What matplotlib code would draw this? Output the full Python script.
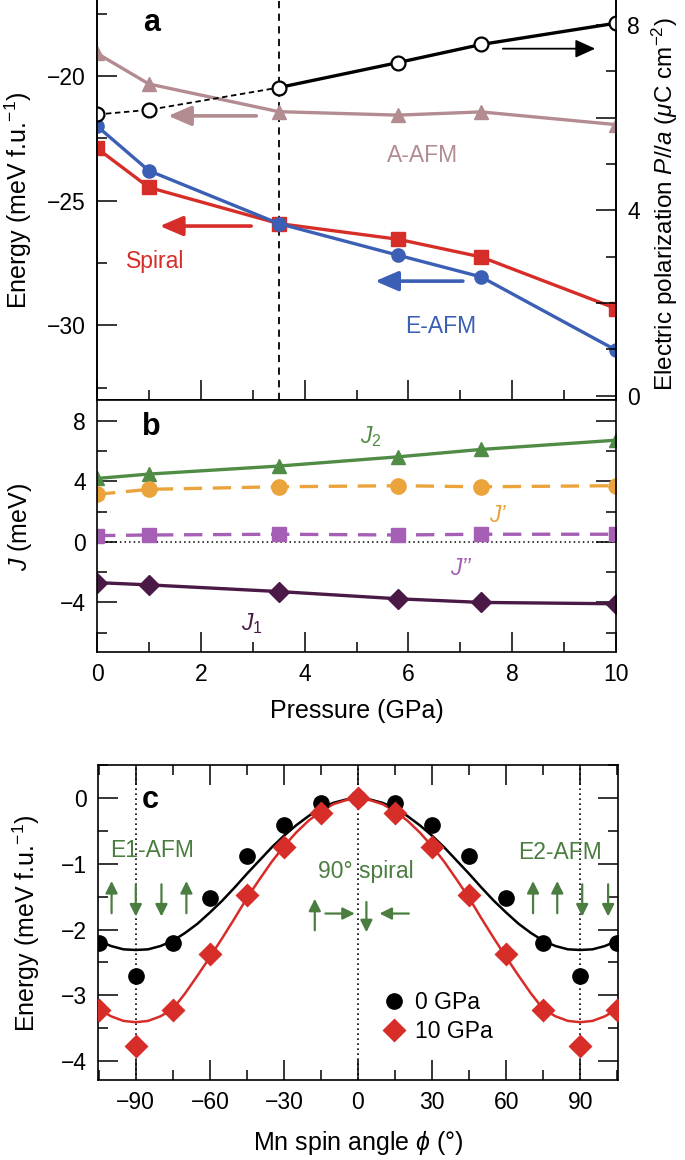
#!/usr/bin/env python3

import numpy as np
import matplotlib
matplotlib.use('Agg')
from matplotlib import pyplot as plt
from matplotlib.ticker import MultipleLocator, NullFormatter

plt.rcParams['font.family'] = ['Liberation Sans', 'DejaVu Sans']
plt.rcParams['mathtext.fontset'] = 'custom'
plt.rcParams['mathtext.rm'] = 'Liberation Sans'
plt.rcParams['mathtext.it'] = 'Liberation Sans:italic'
plt.rcParams['mathtext.bf'] = 'Liberation Sans:bold'

# ---- panel a: energies (left axis) and polarization (right axis) ----
pressure = [0, 1, 3.5, 5.8, 7.4, 10]
e_aafm = [-19.09, -20.32, -21.43, -21.57, -21.44, -21.95]
e_spiral = [-22.90, -24.47, -25.92, -26.55, -27.26, -29.33]
e_eafm = [-22.01, -23.80, -25.92, -27.19, -28.06, -31.00]
polarization = [6.07, 6.17, 6.65, 7.19, 7.58, 8.04]

# ---- panel b: exchange couplings ----
j2 = [4.20, 4.49, 5.02, 5.63, 6.12, 6.73]
j_prime = [3.15, 3.48, 3.65, 3.72, 3.65, 3.72]
j_dprime = [0.42, 0.46, 0.51, 0.46, 0.51, 0.51]
j1 = [-2.69, -2.84, -3.28, -3.76, -4.00, -4.09]

# ---- panel c: energy vs spin angle ----
spin_angle = [-105, -90, -75, -60, -45, -30, -15, 0, 15, 30, 45, 60, 75, 90, 105]
e_0gpa = [-2.20, -2.70, -2.20, -1.52, -0.88, -0.40, -0.07, 0.0,
          -0.07, -0.40, -0.88, -1.52, -2.20, -2.70, -2.20]
e_10gpa = [-3.22, -3.77, -3.22, -2.37, -1.48, -0.74, -0.23, 0.0,
           -0.23, -0.74, -1.48, -2.37, -3.22, -3.77, -3.22]
fit_angle = [-105, -100, -95, -90, -85, -80, -75, -70, -65, -60, -55, -50, -45, -40,
             -35, -30, -25, -20, -15, -10, -5, 0, 5, 10, 15, 20, 25, 30, 35, 40,
             45, 50, 55, 60, 65, 70, 75, 80, 85, 90, 95, 100, 105]
fit_0gpa = [-2.17, -2.25, -2.30, -2.31, -2.30, -2.25, -2.17, -2.05, -1.91, -1.74, -1.56,
            -1.36, -1.15, -0.95, -0.75, -0.57, -0.41, -0.27, -0.15, -0.07, -0.02, 0.0,
            -0.02, -0.07, -0.15, -0.27, -0.41, -0.57, -0.75, -0.95, -1.15, -1.36, -1.56,
            -1.74, -1.91, -2.05, -2.17, -2.25, -2.30, -2.31, -2.30, -2.25, -2.17]
fit_10gpa = [-3.21, -3.32, -3.39, -3.41, -3.39, -3.32, -3.21, -2.97, -2.70, -2.42, -2.13,
             -1.83, -1.52, -1.24, -0.97, -0.73, -0.52, -0.34, -0.20, -0.09, -0.03, 0.0,
             -0.03, -0.09, -0.20, -0.34, -0.52, -0.73, -0.97, -1.24, -1.52, -1.83, -2.13,
             -2.42, -2.70, -2.97, -3.21, -3.32, -3.39, -3.41, -3.39, -3.32, -3.21]

c_aafm = '#b38c91'
c_red = '#d72d28'
c_blue = '#3a5fb4'
c_j2 = '#508c46'
c_jp = '#eba43c'
c_jpp = '#a55fb4'
c_j1 = '#4b1946'
c_green = '#4b7d41'

FS = 16.5
LW = 2.4


def style_ticks(ax, **kw):
    ax.tick_params(which='both', direction='in', width=1.1, labelsize=FS, pad=8, **kw)
    ax.tick_params(which='major', length=14.4)
    ax.tick_params(which='minor', length=7.2)
    for s in ax.spines.values():
        s.set_linewidth(1.2)


def arrow(ax, tail, tip, color, lw, scale, hl=0.6, hw=0.3):
    ax.annotate('', xy=tip, xytext=tail,
                arrowprops=dict(arrowstyle='-|>,head_length=%g,head_width=%g' % (hl, hw),
                                lw=lw, color=color, mutation_scale=scale,
                                shrinkA=0, shrinkB=0))


fig = plt.figure(figsize=(6.85, 11.6), dpi=100)

# ================= panel a =================
ax_a = fig.add_axes([97 / 685, 1 - 400 / 1160, 519 / 685, 400 / 1160])
ax_p = ax_a.twinx()

ax_a.axvline(3.5, color='black', lw=1.3, ls=(0, (4, 3)), zorder=1)
ax_a.plot(pressure, e_aafm, color=c_aafm, lw=LW, marker='^', ms=10, zorder=3)
ax_a.plot(pressure, e_spiral, color=c_red, lw=LW, marker='s', ms=9.5, zorder=3)
ax_a.plot(pressure, e_eafm, color=c_blue, lw=LW, marker='o', ms=9.5, zorder=4)

ax_p.plot(pressure[:3], polarization[:3], color='black', lw=1.3, ls=(0, (3, 2)))
ax_p.plot(pressure[2:], polarization[2:], color='black', lw=2.4)
ax_p.plot(pressure, polarization, ls='none', marker='o', ms=10, mfc='white',
          mec='black', mew=1.6)

ax_a.set_xlim(0, 10)
ax_a.set_ylim(-33, -16.95)
ax_p.set_ylim(-0.09, 8.54)

ax_a.xaxis.set_major_locator(MultipleLocator(2))
ax_a.xaxis.set_minor_locator(MultipleLocator(1))
ax_a.yaxis.set_major_locator(MultipleLocator(5))
ax_a.yaxis.set_minor_locator(MultipleLocator(2.5))
ax_p.yaxis.set_major_locator(MultipleLocator(2))
ax_p.yaxis.set_minor_locator(MultipleLocator(1))
ax_p.yaxis.set_major_formatter(matplotlib.ticker.FuncFormatter(
    lambda v, pos: '%d' % v if int(round(v)) % 4 == 0 else ''))

style_ticks(ax_a, top=False, right=False, labelbottom=False)
style_ticks(ax_p, left=False, top=False, bottom=False)
ax_a.spines['top'].set_visible(False)
ax_p.spines['top'].set_visible(False)

ax_a.set_ylabel('Energy (meV f.u.$^{-1}$)', fontsize=18)
ax_a.yaxis.set_label_coords(-0.122, 0.5)
ax_p.set_ylabel(r'Electric polarization $P//a$ ($\mu$C cm$^{-2}$)', fontsize=17.5)
ax_p.yaxis.set_label_coords(1.066, 0.49)

ax_a.text(1.05, -17.87, 'a', fontsize=22, fontweight='bold', ha='center', va='center')
ax_a.text(6.28, -23.17, 'A-AFM', color=c_aafm, fontsize=FS, ha='center', va='center')
ax_a.text(1.13, -27.46, 'Spiral', color=c_red, fontsize=FS, ha='center', va='center')
ax_a.text(6.62, -30.07, 'E-AFM', color=c_blue, fontsize=FS, ha='center', va='center')

arrow(ax_p, (7.82, 7.49), (9.6, 7.49), 'black', 1.3, 22, 0.55, 0.25)
arrow(ax_a, (3.07, -21.6), (1.37, -21.6), c_aafm, 2.6, 20, 0.7, 0.3)
arrow(ax_a, (2.97, -26.02), (1.21, -26.02), c_red, 2.6, 20, 0.7, 0.3)
arrow(ax_a, (7.05, -28.23), (5.36, -28.23), c_blue, 2.6, 20, 0.7, 0.3)

# ================= panel b =================
ax_b = fig.add_axes([97 / 685, 1 - 652 / 1160, 519 / 685, 252 / 1160])
ax_b.axhline(0, color='black', lw=1.1, ls=(0, (1, 2)))
ax_b.plot(pressure, j2, color=c_j2, lw=LW, marker='^', ms=10.5)
ax_b.plot(pressure, j_prime, color=c_jp, lw=LW, ls=(0, (5.5, 3.2)), marker='o', ms=11)
ax_b.plot(pressure, j_dprime, color=c_jpp, lw=LW, ls=(0, (5.5, 3.2)), marker='s', ms=10)
ax_b.plot(pressure, j1, color=c_j1, lw=LW, marker='D', ms=10.5)

ax_b.set_xlim(0, 10)
ax_b.set_ylim(-7.28, 9.39)
ax_b.xaxis.set_major_locator(MultipleLocator(2))
ax_b.xaxis.set_minor_locator(MultipleLocator(1))
ax_b.yaxis.set_major_locator(MultipleLocator(4))
ax_b.yaxis.set_minor_locator(MultipleLocator(2))
style_ticks(ax_b, top=False, right=True, labelright=False)

ax_b.set_ylabel('$J$ (meV)', fontsize=18)
ax_b.yaxis.set_label_coords(-0.122, 0.496)
ax_b.set_xlabel('Pressure (GPa)', fontsize=18)
ax_b.xaxis.set_label_coords(0.5, -0.185)
ax_b.xaxis.label.set_va('top')

ax_b.text(1.05, 7.61, 'b', fontsize=22, fontweight='bold', ha='center', va='center')
ax_b.text(5.27, 6.95, '$J_2$', color=c_j2, fontsize=FS, ha='center', va='center')
ax_b.text(7.72, 1.78, 'J\u2019', color=c_jp, fontsize=FS, style='italic', ha='center', va='center')
ax_b.text(7.0, -1.74, 'J\u2019\u2019', color=c_jpp, fontsize=FS, style='italic', ha='center', va='center')
ax_b.text(2.99, -5.37, '$J_1$', color=c_j1, fontsize=FS, ha='center', va='center')

# ================= panel c =================
ax_c = fig.add_axes([98 / 685, 1 - 1080 / 1160, 520 / 685, 315 / 1160])
for v in [-90, 0, 90]:
    ax_c.axvline(v, color='black', lw=1.2, ls=(0, (1, 2)), zorder=1)
ax_c.plot(fit_angle, fit_0gpa, color='black', lw=1.8, zorder=2)
ax_c.plot(fit_angle, fit_10gpa, color=c_red, lw=1.8, zorder=2)
ax_c.plot(spin_angle, e_0gpa, ls='none', marker='o', ms=11, color='black', label='0 GPa', zorder=3)
ax_c.plot(spin_angle, e_10gpa, ls='none', marker='D', ms=12, color=c_red, mec='none',
          label='10 GPa', zorder=4)

ax_c.set_xlim(-105.3, 105.3)
ax_c.set_ylim(-4.29, 0.507)
ax_c.xaxis.set_major_locator(MultipleLocator(30))
ax_c.xaxis.set_minor_locator(MultipleLocator(15))
ax_c.yaxis.set_major_locator(MultipleLocator(1))
ax_c.yaxis.set_minor_locator(MultipleLocator(0.5))
style_ticks(ax_c, top=True, right=True)

ax_c.set_ylabel('Energy (meV f.u.$^{-1}$)', fontsize=18)
ax_c.yaxis.set_label_coords(-0.108, 0.498)
ax_c.set_xlabel(r'Mn spin angle $\phi$ ($\degree$)', fontsize=18)
ax_c.xaxis.set_label_coords(0.5, -0.155)
ax_c.xaxis.label.set_va('top')

ax_c.legend(loc='center left', bbox_to_anchor=(0.547, 0.2), frameon=False, fontsize=FS,
            handlelength=1.0, handletextpad=0.4, labelspacing=0.3, borderpad=0,
            borderaxespad=0, numpoints=1)

ax_c.text(-84, -0.03, 'c', fontsize=22, fontweight='bold', ha='center', va='center')
ax_c.text(-83.4, -0.79, 'E1-AFM', color=c_green, fontsize=FS, ha='center', va='center')
ax_c.text(82, -0.82, 'E2-AFM', color=c_green, fontsize=FS, ha='center', va='center')
ax_c.text(3.3, -1.12, '90\u00b0 spiral', color=c_green, fontsize=FS, ha='center', va='center')

# spin arrows (E1, spiral, E2)
for x, up in [(-99.8, True), (-90, False), (-79.6, False), (-69.5, True),
              (70.9, True), (80.7, True), (90.8, False), (101.3, False)]:
    if up:
        arrow(ax_c, (x, -1.75), (x, -1.26), c_green, 1.6, 12)
    else:
        arrow(ax_c, (x, -1.31), (x, -1.80), c_green, 1.6, 12)
arrow(ax_c, (-17.5, -2.01), (-17.5, -1.53), c_green, 1.6, 12)
arrow(ax_c, (-13.2, -1.755), (-1.3, -1.755), c_green, 1.6, 12)
arrow(ax_c, (3.4, -1.58), (3.4, -2.04), c_green, 1.6, 12)
arrow(ax_c, (20.6, -1.755), (8.7, -1.755), c_green, 1.6, 12)

plt.savefig('out.png', dpi=100)
